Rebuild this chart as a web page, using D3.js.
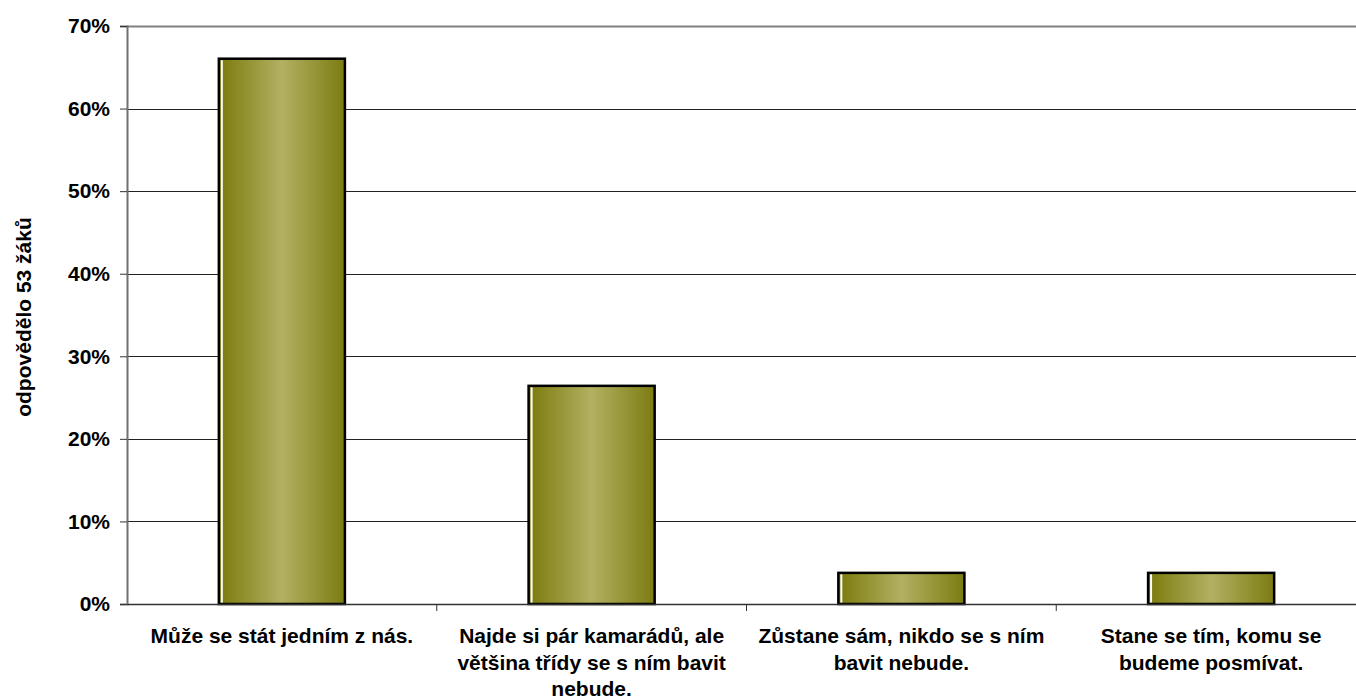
<!DOCTYPE html>
<html><head><meta charset="utf-8">
<script src="https://cdn.jsdelivr.net/npm/d3@7"></script>
<style>body{margin:0;background:#fff}svg{display:block}text{font-family:"Liberation Sans",Arial,sans-serif;font-weight:bold;fill:#000}</style>
</head><body><svg id="c" width="1356" height="700"></svg>
<script>
const categories = ["Může se stát jedním z nás.", "Najde si pár kamarádů, ale většina třídy se s ním bavit nebude.", "Zůstane sám, nikdo se s ním bavit nebude.", "Stane se tím, komu se budeme posmívat."];
const categoryLines = [["Může se stát jedním z nás."], ["Najde si pár kamarádů, ale", "většina třídy se s ním bavit", "nebude."], ["Zůstane sám, nikdo se s ním", "bavit nebude."], ["Stane se tím, komu se", "budeme posmívat."]];
const values = [0.6604, 0.2642, 0.0377, 0.0377];
const yTicks = [0, 0.1, 0.2, 0.3, 0.4, 0.5, 0.6, 0.7];
const yTitle = "odpovědělo 53 žáků";

const svg = d3.select("#c");
const L = 127, R = 1366, T = 26, B = 604;
const x = d3.scaleBand().domain(categories).range([L, R]).paddingInner(0.593).paddingOuter(0.2965);
const xb = d3.scaleBand().domain(categories).range([L, R]);
const y = d3.scaleLinear().domain([0, 0.7]).range([B, T]);

const defs = svg.append("defs");
const g = defs.append("linearGradient").attr("id", "bg").attr("x1", "0").attr("x2", "1").attr("y1", "0").attr("y2", "0");
g.append("stop").attr("offset", "0%").attr("stop-color", "#7a7a0c");
g.append("stop").attr("offset", "50%").attr("stop-color", "#b3b062");
g.append("stop").attr("offset", "100%").attr("stop-color", "#7c7c12");

// gridlines
svg.append("g").selectAll("line").data(yTicks.filter(d => d > 0)).join("line")
  .attr("x1", L).attr("x2", R).attr("y1", d => Math.round(y(d)) + 0.5).attr("y2", d => Math.round(y(d)) + 0.5)
  .attr("stroke", d => d === 0.7 ? "#808080" : "#222").attr("stroke-width", d => d === 0.7 ? 2 : 1);

// y axis
const ya = svg.append("g").attr("transform", `translate(${L},0)`)
  .call(d3.axisLeft(y).tickValues(yTicks).tickFormat(d3.format(".0%")).tickSize(7).tickPadding(10));
ya.select(".domain").attr("stroke", "#707070").attr("stroke-width", 2);
ya.selectAll(".tick line").attr("stroke", "#333");
ya.selectAll(".tick text").style("font-size", "21px").attr("fill", "#000");

// bars
const bars = svg.append("g").selectAll("g").data(categories).join("g");
bars.append("rect")
  .attr("x", d => x(d)).attr("width", x.bandwidth())
  .attr("y", (d, i) => y(values[i])).attr("height", (d, i) => y(0) - y(values[i]))
  .attr("fill", "url(#bg)").attr("stroke", "#000").attr("stroke-width", 2.5);
bars.append("line")
  .attr("x1", d => x(d) + 3).attr("x2", d => x(d) + 3)
  .attr("y1", (d, i) => y(values[i]) + 1.5).attr("y2", y(0) - 1.5)
  .attr("stroke", "#fff").attr("stroke-width", 2);

// x axis
const xa = svg.append("g").attr("transform", `translate(0,${B})`)
  .call(d3.axisBottom(xb).tickSize(0).tickFormat(""));
xa.select(".domain").attr("stroke", "#333").attr("stroke-width", 1.5);
xa.selectAll(".tick").remove();
svg.append("g").selectAll("line").data(categories.slice(1)).join("line")
  .attr("x1", d => xb(d)).attr("x2", d => xb(d)).attr("y1", B).attr("y2", B + 7)
  .attr("stroke", "#333").attr("stroke-width", 1);

// category labels
svg.append("g").selectAll("text").data(categories).join("text")
  .attr("x", d => xb(d) + xb.bandwidth() / 2).attr("y", 643)
  .attr("text-anchor", "middle").style("font-size", "21px")
  .each(function (d, i) {
    d3.select(this).selectAll("tspan").data(categoryLines[i]).join("tspan")
      .attr("x", xb(d) + xb.bandwidth() / 2).attr("dy", (t, j) => j === 0 ? 0 : 26.5).text(t => t);
  });

// y title
svg.append("text").attr("transform", "translate(31,317) rotate(-90)")
  .attr("text-anchor", "middle").style("font-size", "21px").text(yTitle);
</script></body></html>
